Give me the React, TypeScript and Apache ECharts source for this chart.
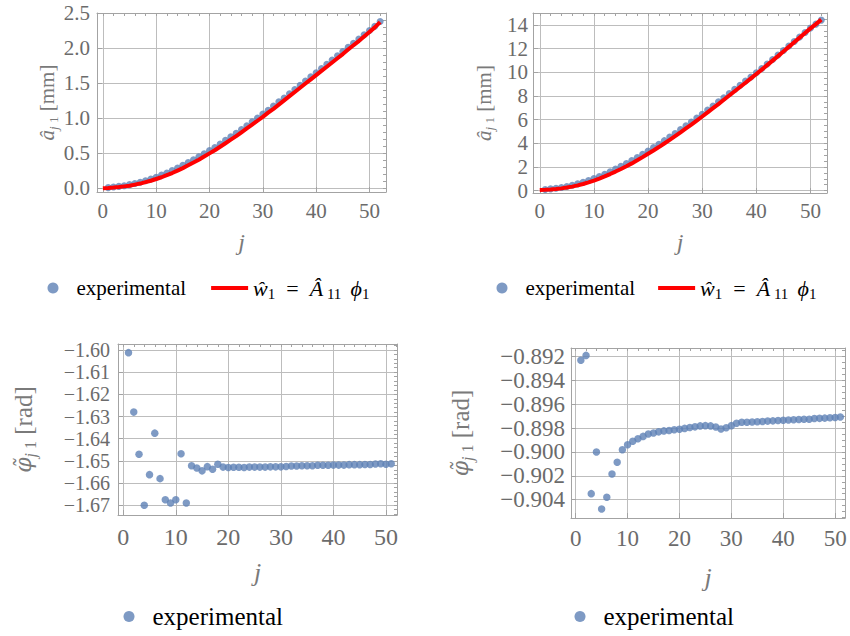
import React, { useEffect, useRef } from 'react';
import * as echarts from 'echarts';

// ---- measured amplitudes (mm), j = 1..52 ----
const ampExp1 = [
  0.012, 0.02, 0.03, 0.04, 0.055, 0.07, 0.09, 0.11, 0.135, 0.16,
  0.19, 0.22, 0.255, 0.29, 0.33, 0.37, 0.41, 0.45, 0.495, 0.54,
  0.585, 0.635, 0.685, 0.735, 0.785, 0.84, 0.895, 0.95, 1.005, 1.06,
  1.115, 1.175, 1.235, 1.29, 1.35, 1.41, 1.47, 1.53, 1.59, 1.65,
  1.71, 1.77, 1.83, 1.89, 1.95, 2.01, 2.07, 2.13, 2.19, 2.25,
  2.31, 2.38,
];
// model curve, j = 0..52
const ampFit1 = [
  0.005, 0.008, 0.013, 0.02, 0.03, 0.04, 0.055, 0.07, 0.09, 0.11,
  0.135, 0.16, 0.19, 0.22, 0.255, 0.29, 0.33, 0.37, 0.41, 0.455,
  0.5, 0.545, 0.595, 0.645, 0.695, 0.745, 0.8, 0.855, 0.91, 0.965,
  1.02, 1.08, 1.135, 1.195, 1.255, 1.315, 1.375, 1.435, 1.495, 1.555,
  1.615, 1.675, 1.735, 1.795, 1.855, 1.915, 1.98, 2.04, 2.1, 2.165,
  2.23, 2.295, 2.37,
];

const ampExp2 = [
  0.1, 0.15, 0.2, 0.27, 0.35, 0.45, 0.57, 0.7, 0.85, 1.02,
  1.2, 1.39, 1.6, 1.82, 2.05, 2.29, 2.54, 2.8, 3.07, 3.35,
  3.63, 3.92, 4.22, 4.52, 4.83, 5.15, 5.47, 5.8, 6.13, 6.45,
  6.8, 7.15, 7.5, 7.85, 8.2, 8.55, 8.9, 9.25, 9.6, 9.95,
  10.32, 10.7, 11.08, 11.46, 11.84, 12.22, 12.6, 12.98, 13.36, 13.74,
  14.06, 14.4,
];
const ampFit2 = [
  0.05, 0.07, 0.1, 0.14, 0.19, 0.26, 0.34, 0.44, 0.56, 0.7,
  0.85, 1.02, 1.2, 1.4, 1.61, 1.83, 2.06, 2.3, 2.56, 2.83,
  3.11, 3.39, 3.68, 3.98, 4.29, 4.6, 4.92, 5.25, 5.58, 5.92,
  6.26, 6.61, 6.96, 7.31, 7.67, 8.03, 8.39, 8.75, 9.11, 9.48,
  9.85, 10.22, 10.6, 10.98, 11.36, 11.75, 12.14, 12.53, 12.92, 13.31,
  13.7, 14.06, 14.44,
];

// ---- measured phases (rad), j = 1..51 ----
const phaseExp1 = [
  -1.6012, -1.628, -1.647, -1.67, -1.6562, -1.6375, -1.658, -1.6675, -1.669, -1.6675,
  -1.6468, -1.669, -1.6522, -1.6532, -1.6545, -1.6526, -1.6538, -1.6515, -1.6528, -1.653,
  -1.6529, -1.6529, -1.653, -1.6528, -1.6528, -1.6528, -1.6528, -1.6527, -1.6527, -1.6527,
  -1.6525, -1.6523, -1.6523, -1.6522, -1.6522, -1.6522, -1.652, -1.652, -1.652, -1.6519,
  -1.6519, -1.6519, -1.6517, -1.6517, -1.6517, -1.6516, -1.6516, -1.6514, -1.6513, -1.6515,
  -1.6513,
];
const phaseExp2 = [
  -0.89233, -0.89192, -0.90349, -0.90001, -0.90478, -0.9038, -0.90185, -0.90087, -0.89981, -0.8994,
  -0.89911, -0.89889, -0.8987, -0.8985, -0.89842, -0.89832, -0.89824, -0.8982, -0.89815, -0.8981,
  -0.89803, -0.89795, -0.8979, -0.89782, -0.8978, -0.89782, -0.89791, -0.89808, -0.89797, -0.8978,
  -0.8976, -0.89752, -0.89752, -0.8975, -0.89748, -0.89745, -0.89742, -0.8974, -0.89737, -0.89735,
  -0.89733, -0.8973, -0.89728, -0.89727, -0.89726, -0.8972, -0.89719, -0.89717, -0.89714, -0.89712,
  -0.89708,
];

// ---- tick values ----
const jTicks = [0, 10, 20, 30, 40, 50];
const ampTicks1 = [0, 0.5, 1, 1.5, 2, 2.5];
const ampTicks2 = [0, 2, 4, 6, 8, 10, 12, 14];
const phaseTicks1 = [-1.67, -1.66, -1.65, -1.64, -1.63, -1.62, -1.61, -1.6];
const phaseTicks2 = [-0.904, -0.902, -0.9, -0.898, -0.896, -0.894, -0.892];

const SERIES_EXP = 'experimental';
const SERIES_FIT = 'ŵ1 = Â11 ϕ1';

const SERIF = "'Liberation Serif', 'Times New Roman', serif";
const FRAME = '#a3a3a3';
const GRID = '#bdbdbd';
const TICK_TEXT = '#6b6b6b';
const NAME_TEXT = '#7a7a7a';
const BLUE = '#5e81b5';
const RED = '#ff0000';

// evenly spaced frame marks between two bounds
function marks(from: number, to: number, step: number, digits: number) {
  const out: number[] = [];
  const n = Math.round((to - from) / step);
  for (let k = 0; k <= n; k++) out.push(Number((from + k * step).toFixed(digits)));
  return out;
}

const minus = (s: string) => s.replace('-', '−');

type PanelSpec = {
  grid: { left: number; top: number; width: number; height: number };
  x: [number, number];
  y: [number, number];
  yTicks: number[];
  yMinor: number[];
  xMinor: number[];
  yFmt: (v: number) => string;
  fontSize: number;
  yFontSize: number;
  xMargin: number;
  yMargin: number;
  yName: string;
  yNameGap: number;
  xNameGap: number;
  nameSize: number;
  jSize: number;
};

function subRich(size: number) {
  const sub = Math.round(size * 0.64);
  return {
    i: { fontFamily: SERIF, fontStyle: 'italic', fontSize: size, color: NAME_TEXT, lineHeight: size + 4 },
    // phi with a combining tilde sits better in DejaVu Serif
    p: { fontFamily: "'DejaVu Serif', serif", fontStyle: 'italic', fontSize: size - 3, color: NAME_TEXT, lineHeight: size + 4 },
    n: { fontFamily: SERIF, fontSize: size, color: NAME_TEXT, lineHeight: size + 4 },
    si: { fontFamily: SERIF, fontStyle: 'italic', fontSize: sub, color: NAME_TEXT, lineHeight: sub, verticalAlign: 'bottom' },
    s: { fontFamily: SERIF, fontSize: sub, color: NAME_TEXT, lineHeight: sub, verticalAlign: 'bottom' },
  };
}

function panelAxes(gridIndex: number, p: PanelSpec) {
  const frame = { show: true, onZero: false, lineStyle: { color: FRAME, width: 1 } };
  const xBottom = {
    type: 'value', gridIndex, position: 'bottom', min: p.x[0], max: p.x[1],
    axisLine: frame,
    axisTick: { show: true, inside: true, length: 5, customValues: jTicks, lineStyle: { color: FRAME } },
    axisLabel: {
      show: true, customValues: jTicks, margin: p.xMargin, color: TICK_TEXT,
      showMinLabel: true, showMaxLabel: true,
      fontFamily: SERIF, fontSize: p.fontSize, formatter: (v: number) => String(v),
    },
    splitLine: { show: true, lineStyle: { color: GRID, width: 1 } },
    name: '{i|j}', nameLocation: 'middle', nameGap: p.xNameGap,
    nameTextStyle: { rich: { i: { fontFamily: SERIF, fontStyle: 'italic', fontSize: p.jSize, color: NAME_TEXT } } },
  };
  const xTop = {
    type: 'value', gridIndex, position: 'top', min: p.x[0], max: p.x[1],
    axisLine: frame,
    axisTick: { show: true, inside: true, length: 3, customValues: p.xMinor, lineStyle: { color: FRAME } },
    axisLabel: { show: false },
    splitLine: { show: false },
  };
  const yLeft = {
    type: 'value', gridIndex, position: 'left', min: p.y[0], max: p.y[1],
    axisLine: frame,
    axisTick: { show: true, inside: true, length: 5, customValues: p.yTicks, lineStyle: { color: FRAME } },
    axisLabel: {
      show: true, customValues: p.yTicks, margin: p.yMargin, color: TICK_TEXT,
      showMinLabel: true, showMaxLabel: true, lineHeight: p.yFontSize,
      fontFamily: SERIF, fontSize: p.yFontSize, formatter: p.yFmt,
    },
    splitLine: { show: true, lineStyle: { color: GRID, width: 1 } },
    name: p.yName, nameLocation: 'middle', nameGap: p.yNameGap,
    nameTextStyle: { rich: subRich(p.nameSize) },
  };
  const yRight = {
    type: 'value', gridIndex, position: 'right', min: p.y[0], max: p.y[1],
    axisLine: frame,
    axisTick: { show: true, inside: true, length: 3, customValues: p.yMinor, lineStyle: { color: FRAME } },
    axisLabel: { show: false },
    splitLine: { show: false },
  };
  return { xs: [xBottom, xTop], ys: [yLeft, yRight] };
}

const ampName = '{i|â}{si|j}{s| 1}{n| [mm]}';
const phaseName = '{p|φ̃}{si|j}{s| 1}{n| [rad]}';

const panels: PanelSpec[] = [
  {
    grid: { left: 97, top: 13, width: 289, height: 179 },
    x: [-1.1, 53.1], y: [-0.05, 2.5],
    yTicks: ampTicks1, yMinor: marks(0, 2.5, 0.1, 2), xMinor: marks(0, 52, 2, 0),
    yFmt: (v: number) => v.toFixed(1),
    fontSize: 21, yFontSize: 21, xMargin: 8, yMargin: 7,
    yName: ampName, yNameGap: 30, xNameGap: 38, nameSize: 21, jSize: 24,
  },
  {
    grid: { left: 533, top: 13, width: 294, height: 180 },
    x: [-1.25, 53.05], y: [-0.2, 15],
    yTicks: ampTicks2, yMinor: marks(0, 15, 0.5, 1), xMinor: marks(0, 52, 2, 0),
    yFmt: (v: number) => String(v),
    fontSize: 21, yFontSize: 21, xMargin: 7, yMargin: 5,
    yName: ampName, yNameGap: 37, xNameGap: 37, nameSize: 21, jSize: 24,
  },
  {
    grid: { left: 118, top: 344, width: 279, height: 171 },
    x: [-1.0, 52.1], y: [-1.6744, -1.5973],
    yTicks: phaseTicks1, yMinor: marks(-1.674, -1.598, 0.002, 3), xMinor: marks(0, 52, 2, 0),
    yFmt: (v: number) => minus(v.toFixed(2)),
    fontSize: 24, yFontSize: 20, xMargin: 10, yMargin: 8,
    yName: phaseName, yNameGap: 80, xNameGap: 44, nameSize: 25, jSize: 26,
  },
  {
    grid: { left: 571, top: 348, width: 274, height: 170 },
    x: [-0.9, 51.9], y: [-0.90553, -0.8913],
    yTicks: phaseTicks2, yMinor: marks(-0.9055, -0.8915, 0.0005, 4), xMinor: marks(0, 50, 2, 0),
    yFmt: (v: number) => minus(v.toFixed(3)),
    fontSize: 23, yFontSize: 23, xMargin: 9, yMargin: 6,
    yName: phaseName, yNameGap: 96, xNameGap: 46, nameSize: 25, jSize: 26,
  },
];

const toPoints = (vals: number[], first: number) => vals.map((v, i) => [i + first, v]);

function legendRich(size: number) {
  const big = size + 1;
  const sub = Math.round(big * 0.66);
  return {
    e: { fontFamily: SERIF, fontSize: size, color: '#000', lineHeight: big + 4 },
    i: { fontFamily: SERIF, fontStyle: 'italic', fontSize: big, color: '#000', lineHeight: big + 4 },
    n: { fontFamily: SERIF, fontSize: big, color: '#000', lineHeight: big + 4 },
    s: { fontFamily: SERIF, fontSize: sub, color: '#000', lineHeight: sub, verticalAlign: 'bottom' },
  };
}

const legendLabel = (name: string) =>
  name === SERIES_EXP ? '{e|experimental}' : '{i|ŵ}{s|1}{n|  =  }{i|Â}{s| 11 }{i| ϕ}{s|1}';

function makeLegend(left: number, top: number, size: number, withFit: boolean, gap: number) {
  const data: any[] = [{ name: SERIES_EXP, icon: 'circle', itemStyle: { color: BLUE } }];
  if (withFit) data.push({ name: SERIES_FIT, icon: 'path://M0,0H37V4H0Z', itemStyle: { color: RED } });
  return {
    left, top, orient: 'horizontal', itemWidth: 37, itemHeight: 11, itemGap: gap,
    selectedMode: false, data, formatter: legendLabel,
    textStyle: { fontFamily: SERIF, fontSize: size, color: '#000', rich: legendRich(size) },
  };
}

function buildOption() {
  const xAxis: any[] = [];
  const yAxis: any[] = [];
  panels.forEach((p, i) => {
    const a = panelAxes(i, p);
    xAxis.push(...a.xs);
    yAxis.push(...a.ys);
  });
  const scatter = (idx: number, vals: number[], size: number) => ({
    type: 'scatter', name: SERIES_EXP, xAxisIndex: idx * 2, yAxisIndex: idx * 2,
    data: toPoints(vals, 1), symbolSize: size, itemStyle: { color: BLUE }, z: 2, silent: true,
  });
  const fit = (idx: number, vals: number[]) => ({
    type: 'line', name: SERIES_FIT, xAxisIndex: idx * 2, yAxisIndex: idx * 2,
    data: toPoints(vals, 0), symbol: 'none', showSymbol: false,
    lineStyle: { color: RED, width: 4 }, itemStyle: { color: RED }, z: 3, silent: true,
  });
  return {
    animation: false,
    backgroundColor: '#ffffff',
    grid: panels.map((p) => ({ ...p.grid, containLabel: false })),
    xAxis,
    yAxis,
    legend: [
      makeLegend(42.5, 272, 21, true, 25),
      makeLegend(491.5, 272, 21, true, 23),
      makeLegend(118.5, 599, 25, false, 25),
      makeLegend(569.5, 599, 25, false, 25),
    ],
    series: [
      scatter(0, ampExp1, 7),
      fit(0, ampFit1),
      scatter(1, ampExp2, 7),
      fit(1, ampFit2),
      scatter(2, phaseExp1, 7.5),
      scatter(3, phaseExp2, 7.5),
    ],
  };
}

export default function App() {
  const ref = useRef<HTMLDivElement>(null);
  useEffect(() => {
    if (!ref.current) return;
    const chart = echarts.init(ref.current, undefined, { renderer: 'svg' });
    chart.setOption(buildOption() as any);
    return () => chart.dispose();
  }, []);
  return (
    <div
      ref={ref}
      style={{ position: 'fixed', left: 0, top: 0, width: 850, height: 636, background: '#fff' }}
    />
  );
}
